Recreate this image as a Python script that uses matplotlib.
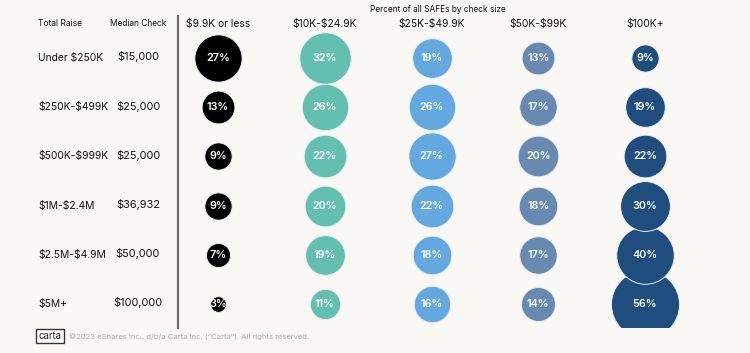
import matplotlib
matplotlib.use("Agg")
import matplotlib.pyplot as plt
from matplotlib.patches import Rectangle
import numpy as np

plt.rcParams['font.family'] = ['Inter', 'DejaVu Sans']
plt.rcParams['text.parse_math'] = False

raise_labels = ["Under $250K", "$250K-$499K", "$500K-$999K", "$1M-$2.4M", "$2.5M-$4.9M", "$5M+"]
median_checks = ["$15,000", "$25,000", "$25,000", "$36,932", "$50,000", "$100,000"]
check_sizes = ["$9.9K or less", "$10K-$24.9K", "$25K-$49.9K", "$50K-$99K", "$100K+"]
pct_9k = [27, 13, 9, 9, 7, 3]
pct_10k = [32, 26, 22, 20, 19, 11]
pct_25k = [19, 26, 27, 22, 18, 16]
pct_50k = [13, 17, 20, 18, 17, 14]
pct_100k = [9, 19, 22, 30, 40, 56]
series = [pct_9k, pct_10k, pct_25k, pct_50k, pct_100k]
colors = ["#000000", "#63BFB0", "#64A8E0", "#6889B0", "#1F4E7E"]

W, H = 750, 353
BG = "#FAF8F4"
fig = plt.figure(figsize=(W / 100, H / 100), dpi=100, facecolor=BG)

def fx(x):
    return x / W

def fy(y):
    return 1 - y / H

# bubble axes in pixel layout
left_px, right_px, top_px, bot_px = 178, 720, 16, 328
ax = fig.add_axes([fx(left_px), fy(bot_px), fx(right_px - left_px), (bot_px - top_px) / H])
ax.set_facecolor(BG)
col0_px, col_sp = 218, 106.75
row0_px, row_sp = 58, 49.2
ax.set_xlim((left_px - col0_px) / col_sp, (right_px - col0_px) / col_sp)
ax.set_ylim((bot_px - row0_px) / row_sp, (top_px - row0_px) / row_sp)
for s in ["top", "right", "bottom"]:
    ax.spines[s].set_visible(False)
ax.spines["left"].set_color("#6b6b6b")
ax.spines["left"].set_linewidth(1.6)
ax.spines["left"].set_zorder(50)
ax.set_xticks([])
ax.set_yticks([])

k = (0.72 * 9.1) ** 2
n = len(raise_labels)
for ci, (vals, c) in enumerate(zip(series, colors)):
    for ri, v in enumerate(vals):
        ax.scatter([ci], [ri], s=k * v, color=c, edgecolors="#e8edf2", linewidths=0.7,
                   zorder=2 + (n - ri), clip_on=True)
        ax.text(ci, ri, f"{v}%", ha="center", va="center", color="white", fontsize=7.8,
                fontweight="semibold", zorder=20)

# mask below the plotting area (bubbles are cut at the bottom edge)
fig.patches.append(Rectangle((fx(left_px + 1), 0), 1 - fx(left_px + 1), fy(bot_px),
                             transform=fig.transFigure, facecolor=BG, edgecolor="none", zorder=5))

# column headers
for ci, lab in enumerate(check_sizes):
    fig.text(fx(col0_px + ci * col_sp), fy(24), lab, ha="center", va="center", fontsize=7.4, color="#111111")
fig.text(fx(438), fy(9), "Percent of all SAFEs by check size", ha="center", va="center", fontsize=6.0, color="#111111")
fig.text(fx(38), fy(24), "Total Raise", ha="left", va="center", fontsize=6.1, color="#111111")
fig.text(fx(138), fy(24), "Median Check", ha="center", va="center", fontsize=6.0, color="#111111")

for ri, (rl, mc) in enumerate(zip(raise_labels, median_checks)):
    y = row0_px + ri * row_sp
    fig.text(fx(38), fy(y), rl, ha="left", va="center", fontsize=7.4, color="#111111")
    fig.text(fx(138), fy(y - 1), mc, ha="center", va="center", fontsize=7.9, color="#111111")

# footer
fig.text(fx(50), fy(336), "carta", ha="center", va="center", fontsize=7.0, color="#222222",
         bbox=dict(boxstyle="square,pad=0.25", fc="white", ec="#333333", lw=1.0), zorder=10)
fig.text(fx(69), fy(336.5), "\u00a92023 eShares Inc., d/b/a Carta Inc. (\u201cCarta\u201d). All rights reserved.",
         ha="left", va="center", fontsize=5.5, color="#aaaaaa", zorder=10)

fig.savefig("out.png", dpi=100, facecolor=BG)
